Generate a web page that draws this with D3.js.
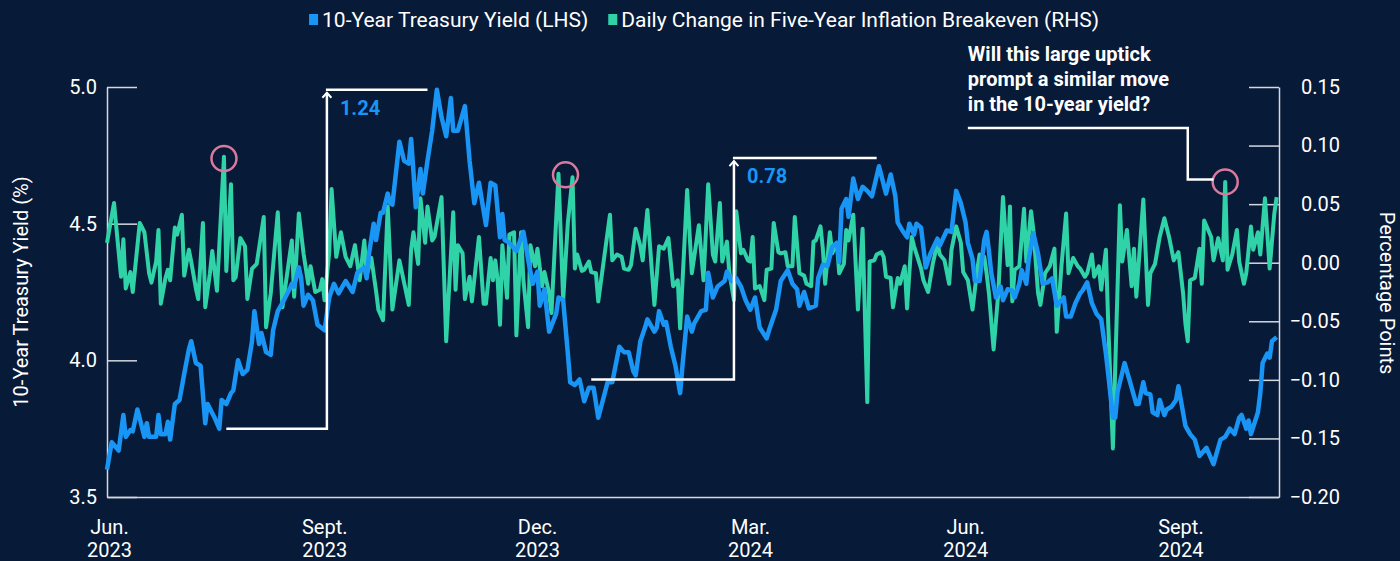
<!DOCTYPE html>
<html>
<head>
<meta charset="utf-8">
<script src="https://cdn.jsdelivr.net/npm/d3@7"></script>
<style>
  html, body { margin: 0; padding: 0; background: #071a38; }
  svg { display: block; font-family: Roboto, "Noto Sans", sans-serif; }
</style>
</head>
<body>
<svg id="chart" width="1400" height="561"></svg>
<script>
// [days since 1 Jun 2023, value]
const yieldPoints = [
  [0,3.60],[2,3.70],[5,3.67],[7,3.80],[8,3.72],[10,3.745],[11,3.74],[13,3.82],[16,3.72],[17,3.77],
  [18,3.72],[21,3.72],[22,3.80],[23,3.73],[25,3.73],[26,3.775],[27,3.71],[29,3.84],[31,3.855],[33,3.95],
  [35,4.04],[36,4.07],[38,3.99],[40,3.98],[42,3.77],[43,3.84],[46,3.79],[48,3.75],[49,3.855],[51,3.84],
  [53,3.88],[54,3.89],[56,4.00],[58,3.95],[60,3.965],[62,4.07],[63,4.18],[65,4.06],[66,4.10],[68,4.03],
  [70,4.02],[71,4.11],[73,4.18],[75,4.21],[78,4.26],[79,4.28],[80,4.27],[82,4.34],[83,4.30],[84,4.20],
  [86,4.24],[88,4.22],[90,4.13],[93,4.11],[95,4.23],[97,4.28],[99,4.245],[102,4.29],[105,4.25],[107,4.32],
  [110,4.34],[111,4.30],[112,4.39],[114,4.50],[115,4.44],[117,4.54],[118,4.54],[120,4.61],[121,4.575],[122,4.57],
  [125,4.80],[127,4.73],[129,4.72],[130,4.81],[131,4.69],[132,4.56],[134,4.70],[135,4.61],[137,4.73],[139,4.84],
  [141,4.99],[143,4.89],[145,4.82],[147,4.96],[148,4.84],[150,4.84],[153,4.93],[155,4.73],[157,4.575],[159,4.65],
  [162,4.495],[164,4.65],[166,4.64],[168,4.45],[169,4.535],[170,4.44],[172,4.43],[175,4.40],[178,4.47],[180,4.37],
  [182,4.28],[184,4.325],[185,4.20],[187,4.26],[189,4.105],[192,4.17],[193,4.23],[195,4.22],[197,4.025],[198,3.92],
  [200,3.91],[202,3.93],[204,3.85],[206,3.90],[208,3.90],[210,3.79],[212,3.855],[214,3.92],[216,3.92],[219,4.05],
  [221,4.03],[223,4.03],[225,3.96],[226,3.945],[228,4.07],[230,4.12],[231,4.15],[234,4.105],[235,4.12],[236,4.18],
  [238,4.13],[239,4.14],[241,4.05],[243,3.98],[245,3.88],[246,3.98],[248,4.16],[250,4.105],[251,4.135],[252,4.15],
  [254,4.18],[256,4.185],[257,4.32],[259,4.23],[261,4.27],[264,4.29],[265,4.325],[267,4.29],[269,4.30],[271,4.27],
  [273,4.22],[275,4.185],[277,4.23],[279,4.12],[282,4.08],[283,4.11],[286,4.185],[288,4.29],[291,4.33],[293,4.28],
  [295,4.26],[296,4.20],[298,4.25],[300,4.19],[303,4.20],[304,4.30],[306,4.35],[308,4.345],[310,4.415],[312,4.43],
  [313,4.36],[314,4.555],[316,4.59],[317,4.525],[319,4.665],[321,4.59],[323,4.635],[325,4.62],[327,4.60],[330,4.71],
  [333,4.61],[335,4.68],[337,4.60],[338,4.505],[340,4.475],[342,4.45],[343,4.50],[345,4.46],[346,4.50],[348,4.485],
  [350,4.34],[352,4.39],[355,4.445],[356,4.42],[359,4.475],[361,4.47],[363,4.62],[365,4.575],[367,4.505],[368,4.43],
  [370,4.37],[371,4.29],[373,4.29],[375,4.44],[376,4.47],[377,4.40],[378,4.32],[380,4.23],[382,4.27],[383,4.22],
  [385,4.26],[387,4.255],[388,4.23],[390,4.28],[391,4.33],[393,4.28],[394,4.37],[396,4.465],[398,4.39],[400,4.28],
  [402,4.285],[404,4.30],[406,4.20],[407,4.21],[409,4.23],[410,4.16],[412,4.16],[414,4.21],[416,4.245],[417,4.255],
  [419,4.285],[421,4.21],[423,4.17],[425,4.15],[427,4.025],[428,3.95],[430,3.79],[431,3.79],[432,3.885],[435,3.99],
  [437,3.93],[440,3.84],[441,3.84],[443,3.92],[444,3.88],[446,3.875],[447,3.81],[449,3.80],[450,3.855],[452,3.80],
  [453,3.82],[455,3.83],[457,3.855],[458,3.905],[461,3.76],[463,3.73],[465,3.71],[467,3.65],[470,3.68],[473,3.62],
  [476,3.71],[478,3.72],[480,3.75],[482,3.73],[484,3.79],[485,3.80],[487,3.75],[488,3.78],[489,3.73],[492,3.81],
  [493,3.88],[494,3.99],[496,4.025],[497,4.01],[498,4.07],[500,4.085]
];

const breakevenPoints = [
  [0,0.017],[3,0.051],[6,-0.012],[7,0.020],[8,-0.022],[10,-0.008],[11,-0.025],[14,0.034],[16,0.026],[18,-0.009],
  [19,-0.017],[21,0.001],[22,0.028],[23,-0.035],[25,-0.013],[26,-0.006],[27,-0.015],[29,0.030],[30,0.024],[32,0.041],
  [33,-0.011],[35,0.011],[36,0.001],[38,-0.022],[39,-0.031],[41,0.034],[42,-0.038],[44,-0.009],[45,0.010],[47,-0.024],
  [50,0.0905],[51,-0.007],[53,0.067],[54,-0.015],[55,-0.0125],[57,0.021],[59,0.014],[60,-0.031],[62,-0.005],[64,-0.001],
  [67,0.039],[68,-0.055],[70,-0.026],[73,0.043],[75,-0.038],[79,0.019],[80,-0.029],[82,0.042],[84,0.008],[86,-0.018],
  [87,-0.003],[89,-0.025],[91,-0.023],[92,-0.014],[93,-0.032],[95,0.009],[96,0.063],[98,0.005],[100,0.026],[102,0.005],
  [104,-0.003],[106,0.015],[108,-0.015],[110,0.019],[111,-0.011],[113,0.004],[115,-0.024],[116,-0.040],[118,-0.049],[120,0.048],
  [122,-0.040],[125,0.002],[129,-0.036],[130,0.011],[131,0.026],[133,-0.001],[134,0.055],[136,0.017],[137,0.048],[139,0.019],
  [140,0.022],[143,0.056],[145,-0.067],[148,0.043],[149,-0.023],[150,0.015],[152,0.008],[153,-0.031],[155,-0.012],[156,-0.033],
  [159,0.022],[161,-0.035],[162,-0.035],[164,0.004],[165,-0.015],[166,0.002],[167,-0.015],[168,-0.053],[169,0.015],[171,-0.030],
  [172,0.024],[174,0.026],[175,-0.062],[177,0.026],[178,-0.015],[180,-0.055],[181,0.015],[183,-0.003],[184,0.012],[186,-0.020],
  [187,-0.008],[189,-0.026],[190,-0.043],[193,0.076],[195,-0.032],[197,0.034],[199,0.073],[200,-0.005],[201,0.007],[203,-0.007],
  [204,-0.006],[206,0.001],[207,-0.008],[209,-0.009],[210,-0.033],[215,0.041],[216,0.002],[218,0.007],[220,0.005],[221,-0.005],
  [223,-0.006],[224,-0.002],[226,0.029],[228,0.014],[229,0.002],[231,0.045],[234,-0.036],[236,0.014],[238,0.012],[240,0.021],
  [242,-0.020],[244,-0.015],[245,-0.056],[248,0.062],[250,-0.009],[253,0.032],[255,-0.015],[257,0.067],[259,0.007],[260,0.001],
  [262,0.051],[263,0.001],[265,0.018],[266,-0.008],[268,-0.032],[269,0.044],[271,0.008],[272,0.011],[274,0.002],[275,0.001],
  [276,0.022],[277,-0.022],[279,-0.020],[281,-0.032],[282,-0.006],[284,-0.005],[285,0.034],[287,0.009],[288,0.008],[290,0.009],
  [291,-0.003],[293,-0.003],[294,0.039],[296,-0.009],[298,-0.011],[299,-0.018],[301,-0.020],[302,0.018],[303,0.019],[305,0.031],
  [306,0.012],[307,-0.018],[309,0.026],[310,0.008],[312,0.017],[313,-0.009],[315,-0.001],[316,0.028],[317,0.019],[319,0.041],
  [321,-0.040],[323,0.029],[325,-0.119],[326,0.001],[328,0.002],[329,0.007],[331,0.009],[332,0.005],[333,-0.012],[335,-0.013],
  [336,-0.038],[338,-0.013],[339,-0.018],[341,-0.003],[342,-0.039],[344,0.022],[345,0.014],[348,-0.005],[349,-0.015],[351,-0.025],
  [353,-0.001],[355,0.017],[356,0.007],[358,0.002],[360,-0.018],[361,0.011],[363,0.031],[365,0.017],[366,-0.008],[368,-0.015],
  [370,-0.040],[372,-0.006],[373,0.007],[375,0.005],[376,-0.009],[377,-0.026],[379,-0.074],[381,-0.026],[383,0.056],[385,-0.002],
  [386,0.048],[387,-0.033],[388,-0.006],[390,-0.003],[392,0.046],[393,0.001],[395,0.044],[396,0.028],[398,-0.026],[399,-0.036],
  [401,-0.009],[403,-0.003],[405,0.012],[406,-0.059],[408,-0.003],[410,0.042],[411,-0.009],[413,0.004],[415,-0.003],[416,-0.005],
  [418,-0.012],[419,-0.009],[421,0.007],[422,-0.012],[424,-0.003],[425,-0.023],[427,0.011],[428,-0.052],[430,-0.1585],[433,0.049],
  [434,0.001],[436,0.028],[438,-0.020],[439,0.012],[440,-0.029],[443,0.054],[445,-0.036],[446,-0.009],[448,-0.001],[450,0.022],
  [452,0.038],[454,0.022],[456,0.002],[458,0.009],[460,-0.026],[461,-0.052],[462,-0.067],[463,-0.015],[465,-0.013],[467,0.012],
  [468,-0.018],[469,0.036],[472,0.022],[473,0.002],[475,0.021],[477,0.002],[478,0.069],[479,-0.006],[481,0.007],[483,0.028],
  [484,0.001],[486,-0.018],[487,-0.009],[489,0.031],[490,0.011],[492,0.026],[493,0.007],[495,0.055],[497,-0.005],[499,0.042],
  [500,0.056]
];

const leftTicks = [3.5, 4.0, 4.5, 5.0];
const rightTicks = [-0.20, -0.15, -0.10, -0.05, 0.00, 0.05, 0.10, 0.15];
const monthTicks = ["2023-06-01", "2023-09-01", "2023-12-01", "2024-03-01", "2024-06-01", "2024-09-01"];
const monthLabels = ["Jun.", "Sept.", "Dec.", "Mar.", "Jun.", "Sept."];
const yearLabels = ["2023", "2023", "2023", "2024", "2024", "2024"];

// circled spikes on the breakeven series: [day, value]
const circled = [[50, 0.089], [196, 0.075], [478, 0.069]];

// measured moves in the yield: [startDay, cornerDay, endDay, low, high, label]
const moves = [
  [51, 94, 137, 3.75, 4.99, "1.24"],
  [207, 268, 329, 3.93, 4.74, "0.78"]
];
const question = ["Will this large uptick", "prompt a similar move", "in the 10-year yield?"];

const blue = "#1996f5";
const green = "#2fd3a7";
const pink = "#d9799b";
const axisColor = "#d5d9df";

const parse = d3.timeParse("%Y-%m-%d");
const start = parse("2023-06-01");
const toDate = d => d3.timeDay.offset(start, d);

const svg = d3.select("#chart");

const x = d3.scaleTime().domain([start, parse("2024-10-14")]).range([107, 1279]);
const yL = d3.scaleLinear().domain([3.5, 5.0]).range([497, 87]);
const yR = d3.scaleLinear().domain([-0.20, 0.15]).range([497, 87]);

// axes
const left = svg.append("g")
  .attr("transform", "translate(107,0)")
  .call(d3.axisLeft(yL).tickValues(leftTicks).tickFormat(d3.format(".1f")).tickSize(-30).tickSizeOuter(0).tickPadding(10));

const right = svg.append("g")
  .attr("transform", "translate(1279,0)")
  .call(d3.axisRight(yR).tickValues(rightTicks).tickFormat(d3.format(".2f")).tickSize(-30).tickSizeOuter(0));
right.selectAll(".tick text").attr("text-anchor", "end").attr("x", 61);

const bottom = svg.append("g")
  .attr("transform", "translate(0,497)")
  .call(d3.axisBottom(x).tickValues(monthTicks.map(parse)).tickSize(0).tickFormat(""));
bottom.selectAll(".tick text").remove();
bottom.selectAll(".tick").each(function(d, i) {
  const t = d3.select(this).append("text").attr("fill", "#fff").attr("text-anchor", "middle");
  t.append("tspan").attr("x", 2).attr("y", 37).text(monthLabels[i]);
  t.append("tspan").attr("x", 2).attr("y", 60).text(yearLabels[i]);
});

svg.selectAll(".domain, .tick line").attr("stroke", axisColor).attr("stroke-width", 1.5);
svg.selectAll(".tick text").attr("fill", "#fff").style("font-size", "20px").style("font-family", "Roboto, sans-serif");

// axis titles
svg.append("text")
  .attr("transform", "translate(23,292) rotate(-90)")
  .attr("text-anchor", "middle").attr("dominant-baseline", "middle")
  .attr("fill", "#fff").style("font-size", "20px")
  .text("10-Year Treasury Yield (%)");
svg.append("text")
  .attr("transform", "translate(1385,293) rotate(90)")
  .attr("text-anchor", "middle").attr("dominant-baseline", "middle")
  .attr("fill", "#fff").style("font-size", "20px")
  .text("Percentage Points");

// lines
const beLine = d3.line().x(d => x(toDate(d[0]))).y(d => yR(d[1]));
const yieldLine = d3.line().x(d => x(toDate(d[0]))).y(d => yL(d[1]));

svg.append("path").datum(breakevenPoints)
  .attr("d", beLine).attr("fill", "none").attr("stroke", green)
  .attr("stroke-width", 4).attr("stroke-linejoin", "round");
svg.append("path").datum(yieldPoints)
  .attr("d", yieldLine).attr("fill", "none").attr("stroke", blue)
  .attr("stroke-width", 4.5).attr("stroke-linejoin", "round");

// circles
svg.selectAll(".spike").data(circled).join("circle")
  .attr("cx", d => x(toDate(d[0]))).attr("cy", d => yR(d[1])).attr("r", 12.5)
  .attr("fill", "none").attr("stroke", pink).attr("stroke-width", 2.5);

// move brackets
moves.forEach(m => {
  const [d0, d1, d2, lo, hi, label] = m;
  const x0 = x(toDate(d0)), x1 = x(toDate(d1)), x2 = x(toDate(d2));
  const y0 = yL(lo), y1 = yL(hi);
  const g = svg.append("g").attr("stroke", "#fff").attr("stroke-width", 2.5).attr("fill", "none");
  g.append("path").attr("d", `M${x0},${y0}H${x1}V${y1 + 3}`);
  g.append("path").attr("d", `M${x1 - 4.5},${y1 + 8}L${x1},${y1 + 3}L${x1 + 4.5},${y1 + 8}`).attr("stroke-width", 2);
  g.append("path").attr("d", `M${x1 - 1},${y1}H${x2}`);
  svg.append("text").attr("x", x1 + 13).attr("y", y1 + 25)
    .attr("fill", blue).style("font-size", "20px").style("font-weight", 700)
    .text(label);
});

// question callout
const qx = x(toDate(368));
const qy = yR(0.115);
svg.append("path")
  .attr("d", `M${qx},${qy}H${x(toDate(462))}V${yR(0.071)}H${x(toDate(473.5))}`)
  .attr("fill", "none").attr("stroke", "#fff").attr("stroke-width", 2.5);
svg.append("text").attr("fill", "#fff").style("font-size", "20px").style("font-weight", 700)
  .selectAll("tspan").data(question).join("tspan")
  .attr("x", qx).attr("y", (d, i) => qy - 67 + i * 25).text(d => d);

// legend
const legendItems = [
  { label: "10-Year Treasury Yield (LHS)", color: blue },
  { label: "Daily Change in Five-Year Inflation Breakeven (RHS)", color: green }
];
const legend = svg.append("g");
let lx = 0;
legendItems.forEach((it, i) => {
  legend.append("rect").attr("x", lx).attr("y", 14).attr("width", 9).attr("height", 11).attr("fill", it.color);
  const t = legend.append("text").attr("x", lx + 13).attr("y", 27)
    .attr("fill", "#fff").style("font-size", "21px").text(it.label);
  lx += 13 + t.node().getComputedTextLength() + 20;
});
legend.attr("transform", `translate(${704 - (lx - 20) / 2},0)`);
</script>
</body>
</html>
